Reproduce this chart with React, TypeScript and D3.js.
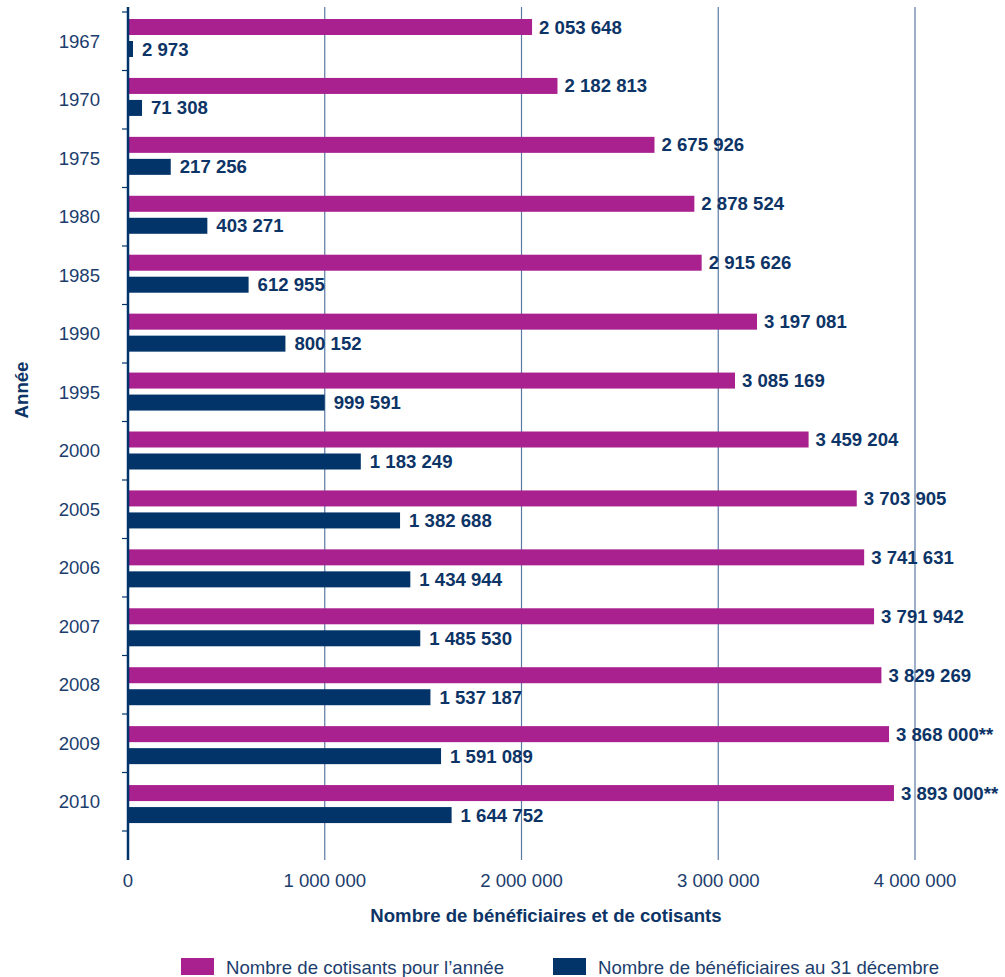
import React, { useEffect, useRef } from "react";
import * as d3 from "d3";

const years = ["1967", "1970", "1975", "1980", "1985", "1990", "1995", "2000", "2005", "2006", "2007", "2008", "2009", "2010"];
const cotisants = [2053648, 2182813, 2675926, 2878524, 2915626, 3197081, 3085169, 3459204, 3703905, 3741631, 3791942, 3829269, 3868000, 3893000];
const cotisantsLabels = ["2 053 648", "2 182 813", "2 675 926", "2 878 524", "2 915 626", "3 197 081", "3 085 169", "3 459 204", "3 703 905", "3 741 631", "3 791 942", "3 829 269", "3 868 000**", "3 893 000**"];
const beneficiaires = [2973, 71308, 217256, 403271, 612955, 800152, 999591, 1183249, 1382688, 1434944, 1485530, 1537187, 1591089, 1644752];
const xTicks = [0, 1000000, 2000000, 3000000, 4000000];

const PINK = "#a8218e";
const NAVY = "#02346a";
const TEXT = "#1b3d6d";
const GRID = "#5b7aa3";
const FONT = "'Liberation Sans', Arial, sans-serif";
const FS = 18.6;

const fmt = (v: number) => d3.format(",")(v).replace(/,/g, " ");

const App = () => {
  const svgRef = useRef<SVGSVGElement>(null);

  useEffect(() => {
    const svg = d3.select(svgRef.current);
    svg.selectAll("*").remove();

    const x = d3.scaleLinear().domain([0, 4000000]).range([128, 915]);
    const yBars = d3.scaleBand().domain(years).range([9, 834]);
    const yTicks = d3.scaleBand().domain(years).range([12, 831]);
    const top = 7;
    const bottom = 860;
    const barW = (v: number) => Math.max(x(v) - x(0), 5);

    // gridlines
    svg
      .append("g")
      .selectAll("line")
      .data(xTicks.slice(1))
      .join("line")
      .attr("x1", (d) => x(d))
      .attr("x2", (d) => x(d))
      .attr("y1", top)
      .attr("y2", bottom)
      .attr("stroke", GRID)
      .attr("stroke-width", 1.2);

    // pink bars
    svg
      .append("g")
      .selectAll("rect")
      .data(years)
      .join("rect")
      .attr("x", x(0))
      .attr("y", (d) => yBars(d)! + 10)
      .attr("width", (_, i) => barW(cotisants[i]))
      .attr("height", 16)
      .attr("fill", PINK);

    // navy bars
    svg
      .append("g")
      .selectAll("rect")
      .data(years)
      .join("rect")
      .attr("x", x(0))
      .attr("y", (d) => yBars(d)! + 32)
      .attr("width", (_, i) => barW(beneficiaires[i]))
      .attr("height", 16)
      .attr("fill", NAVY);

    // value labels
    const labels = svg
      .append("g")
      .attr("font-family", FONT)
      .attr("font-size", FS)
      .attr("font-weight", "bold")
      .attr("fill", "#0d3466");
    labels
      .selectAll("text.c")
      .data(years)
      .join("text")
      .attr("class", "c")
      .attr("x", (_, i) => x(cotisants[i]) + 7)
      .attr("y", (d) => yBars(d)! + 18)
      .attr("dy", "0.35em")
      .text((_, i) => cotisantsLabels[i]);
    labels
      .selectAll("text.b")
      .data(years)
      .join("text")
      .attr("class", "b")
      .attr("x", (_, i) => x(0) + barW(beneficiaires[i]) + 9)
      .attr("y", (d) => yBars(d)! + 40)
      .attr("dy", "0.35em")
      .text((_, i) => fmt(beneficiaires[i]));

    // y axis line and ticks
    svg
      .append("line")
      .attr("x1", x(0))
      .attr("x2", x(0))
      .attr("y1", top)
      .attr("y2", bottom)
      .attr("stroke", NAVY)
      .attr("stroke-width", 2.5);
    const boundaries = years.map((d) => yTicks(d)!).concat([yTicks.range()[1]]);
    svg
      .append("g")
      .selectAll("line")
      .data(boundaries)
      .join("line")
      .attr("x1", 122)
      .attr("x2", x(0))
      .attr("y1", (d) => d)
      .attr("y2", (d) => d)
      .attr("stroke", NAVY)
      .attr("stroke-width", 1.2);

    // year labels
    svg
      .append("g")
      .attr("font-family", FONT)
      .attr("font-size", FS)
      .attr("fill", TEXT)
      .attr("text-anchor", "end")
      .selectAll("text")
      .data(years)
      .join("text")
      .attr("x", 100)
      .attr("y", (d) => yTicks(d)! + yTicks.bandwidth() / 2)
      .attr("dy", "0.35em")
      .text((d) => d);

    // x tick labels
    svg
      .append("g")
      .attr("font-family", FONT)
      .attr("font-size", FS)
      .attr("fill", TEXT)
      .attr("text-anchor", "middle")
      .selectAll("text")
      .data(xTicks)
      .join("text")
      .attr("x", (d) => x(d))
      .attr("y", 880)
      .attr("dy", "0.35em")
      .text((d) => fmt(d));

    // axis titles
    svg
      .append("text")
      .attr("x", 546)
      .attr("y", 915)
      .attr("dy", "0.35em")
      .attr("text-anchor", "middle")
      .attr("font-family", FONT)
      .attr("font-size", FS)
      .attr("font-weight", "bold")
      .attr("fill", "#0d3466")
      .text("Nombre de bénéficiaires et de cotisants");
    svg
      .append("text")
      .attr("transform", "translate(21,390) rotate(-90)")
      .attr("dy", "0.35em")
      .attr("text-anchor", "middle")
      .attr("font-family", FONT)
      .attr("font-size", FS)
      .attr("font-weight", "bold")
      .attr("fill", "#0d3466")
      .text("Année");

    // legend
    const legend = [
      { label: "Nombre de cotisants pour l’année", color: PINK, x: 181 },
      { label: "Nombre de bénéficiaires au 31 décembre", color: NAVY, x: 553 },
    ];
    const lg = svg
      .append("g")
      .selectAll("g")
      .data(legend)
      .join("g")
      .attr("transform", (d) => `translate(${d.x},958)`);
    lg.append("rect").attr("width", 33).attr("height", 17).attr("fill", (d) => d.color);
    lg.append("text")
      .attr("x", 45)
      .attr("y", 9)
      .attr("dy", "0.35em")
      .attr("font-family", FONT)
      .attr("font-size", FS)
      .attr("fill", TEXT)
      .text((d) => d.label);
  }, []);

  return (
    <svg
      ref={svgRef}
      width={1005}
      height={977}
      style={{ position: "absolute", left: 0, top: 0, background: "#fff" }}
    />
  );
};

export default App;
